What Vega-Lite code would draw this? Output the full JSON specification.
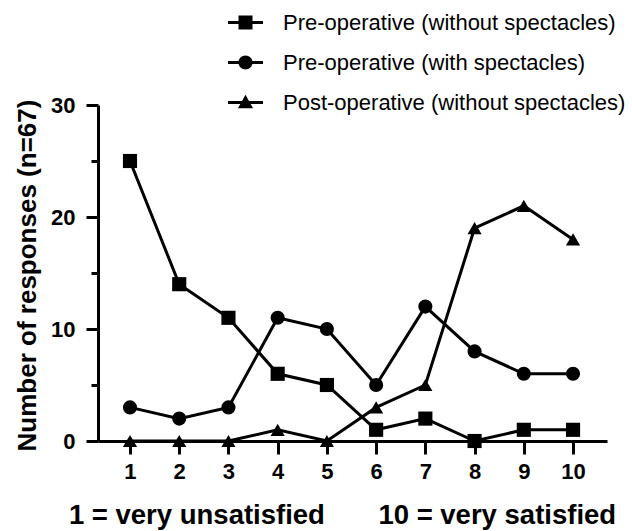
{
  "$schema": "https://vega.github.io/schema/vega-lite/v6.json",
  "width": 509,
  "height": 336,
  "autosize": {"type": "none"},
  "padding": {"left": 98, "top": 105, "right": 25, "bottom": 90},
  "background": "white",
  "config": {
    "view": {"stroke": null},
    "font": "Liberation Sans",
    "legend": {
      "orient": "none",
      "legendX": 130,
      "legendY": -100,
      "title": null,
      "symbolSize": 1225,
      "labelFontSize": 22,
      "labelFont": "Liberation Sans",
      "labelOffset": 20,
      "rowPadding": 11,
      "symbolStrokeWidth": 0,
      "symbolFillColor": "black",
      "labelColor": "black",
      "labelLimit": 600
    }
  },
  "data": {
    "values": [
      {"score": 1, "series": "Pre-operative (without spectacles)", "n": 25},
      {"score": 2, "series": "Pre-operative (without spectacles)", "n": 14},
      {"score": 3, "series": "Pre-operative (without spectacles)", "n": 11},
      {"score": 4, "series": "Pre-operative (without spectacles)", "n": 6},
      {"score": 5, "series": "Pre-operative (without spectacles)", "n": 5},
      {"score": 6, "series": "Pre-operative (without spectacles)", "n": 1},
      {"score": 7, "series": "Pre-operative (without spectacles)", "n": 2},
      {"score": 8, "series": "Pre-operative (without spectacles)", "n": 0},
      {"score": 9, "series": "Pre-operative (without spectacles)", "n": 1},
      {"score": 10, "series": "Pre-operative (without spectacles)", "n": 1},
      {"score": 1, "series": "Pre-operative (with spectacles)", "n": 3},
      {"score": 2, "series": "Pre-operative (with spectacles)", "n": 2},
      {"score": 3, "series": "Pre-operative (with spectacles)", "n": 3},
      {"score": 4, "series": "Pre-operative (with spectacles)", "n": 11},
      {"score": 5, "series": "Pre-operative (with spectacles)", "n": 10},
      {"score": 6, "series": "Pre-operative (with spectacles)", "n": 5},
      {"score": 7, "series": "Pre-operative (with spectacles)", "n": 12},
      {"score": 8, "series": "Pre-operative (with spectacles)", "n": 8},
      {"score": 9, "series": "Pre-operative (with spectacles)", "n": 6},
      {"score": 10, "series": "Pre-operative (with spectacles)", "n": 6},
      {"score": 1, "series": "Post-operative (without spectacles)", "n": 0},
      {"score": 2, "series": "Post-operative (without spectacles)", "n": 0},
      {"score": 3, "series": "Post-operative (without spectacles)", "n": 0},
      {"score": 4, "series": "Post-operative (without spectacles)", "n": 1},
      {"score": 5, "series": "Post-operative (without spectacles)", "n": 0},
      {"score": 6, "series": "Post-operative (without spectacles)", "n": 3},
      {"score": 7, "series": "Post-operative (without spectacles)", "n": 5},
      {"score": 8, "series": "Post-operative (without spectacles)", "n": 19},
      {"score": 9, "series": "Post-operative (without spectacles)", "n": 21},
      {"score": 10, "series": "Post-operative (without spectacles)", "n": 18}
    ]
  },
  "encoding": {
    "x": {
      "field": "score",
      "type": "quantitative",
      "scale": {"domain": [0.35, 10.69], "nice": false, "zero": false},
      "axis": {
        "values": [1, 2, 3, 4, 5, 6, 7, 8, 9, 10],
        "grid": false,
        "title": "1 = very unsatisfied\u00a0\u00a0\u00a0\u00a0\u00a0\u00a0\u00a010 = very satisfied",
        "titleFontSize": 27.5,
        "titleFontWeight": "bold",
        "titleColor": "black",
        "titleX": 244,
        "titleY": 74,
        "titleAlign": "center",
        "titleBaseline": "middle",
        "domainColor": "black",
        "domainWidth": 3,
        "tickColor": "black",
        "tickWidth": 3,
        "tickSize": 13,
        "labelFontSize": 22,
        "labelFontWeight": "bold",
        "labelColor": "black",
        "labelPadding": 7,
        "labelFlush": false
      }
    },
    "y": {
      "field": "n",
      "type": "quantitative",
      "scale": {"domain": [0, 30], "nice": false},
      "axis": {
        "values": [0, 5, 10, 15, 20, 25, 30],
        "labelExpr": "datum.value % 10 === 0 ? datum.label : ''",
        "grid": false,
        "title": "Number of responses (n=67)",
        "titleFontSize": 26,
        "titleFontWeight": "bold",
        "titleColor": "black",
        "titleX": -71,
        "titleY": 170,
        "titleAlign": "center",
        "titleBaseline": "middle",
        "domainColor": "black",
        "domainWidth": 3,
        "tickColor": "black",
        "tickWidth": 3,
        "tickSize": {"condition": {"test": "datum.value % 10 === 0", "value": 12}, "value": 7},
        "labelFontSize": 22,
        "labelFontWeight": "bold",
        "labelColor": "black",
        "labelPadding": 11,
        "labelFlush": false
      }
    }
  },
  "layer": [
    {
      "mark": {"type": "line", "color": "black", "strokeWidth": 3},
      "encoding": {"detail": {"field": "series", "type": "nominal"}}
    },
    {
      "mark": {"type": "point", "filled": true, "color": "black", "opacity": 1, "size": 200},
      "encoding": {
        "shape": {
          "field": "series",
          "type": "nominal",
          "scale": {
            "domain": ["Pre-operative (without spectacles)", "Pre-operative (with spectacles)", "Post-operative (without spectacles)"],
            "range": ["square", "circle", "triangle-up"]
          },
          "legend": null
        }
      }
    },
    {
      "transform": [{"filter": "datum.n < 0"}],
      "mark": {"type": "point", "filled": true, "color": "black", "opacity": 1},
      "encoding": {
        "shape": {
          "field": "series",
          "type": "nominal",
          "scale": {
            "domain": ["Pre-operative (without spectacles)", "Pre-operative (with spectacles)", "Post-operative (without spectacles)"],
            "range": [
              "M-1,-0.086H1V0.086H-1ZM-0.4,-0.4H0.4V0.4H-0.4Z",
              "M-1,-0.086H1V0.086H-1ZM-0.4,0A0.4,0.4,0,1,1,0.4,0A0.4,0.4,0,1,1,-0.4,0Z",
              "M-1,-0.086H1V0.086H-1ZM0,-0.45L0.43,0.33H-0.43Z"
            ]
          },
          "legend": {"symbolSize": 1225}
        }
      }
    }
  ],
  "resolve": {"scale": {"shape": "independent"}, "legend": {"shape": "independent"}}
}
